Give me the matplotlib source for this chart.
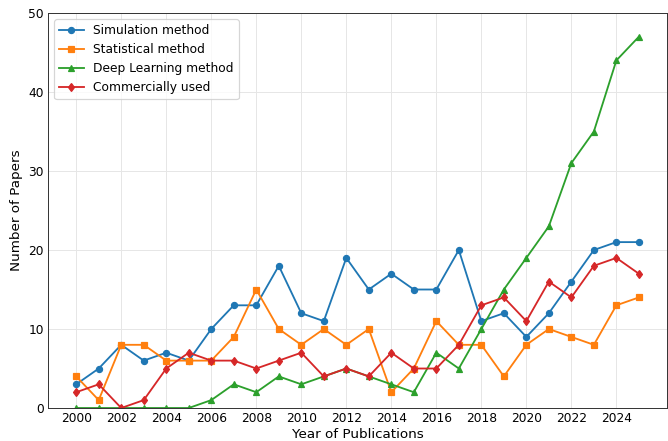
import numpy as np
import matplotlib
matplotlib.use('Agg')
import matplotlib.pyplot as plt

# data
years = np.arange(2000, 2026)
simulation = [3, 5, 8, 6, 7, 6, 10, 13, 13, 18, 12, 11, 19, 15, 17, 15, 15, 20, 11, 12, 9, 12, 16, 20, 21, 21]
statistical = [4, 1, 8, 8, 6, 6, 6, 9, 15, 10, 8, 10, 8, 10, 2, 5, 11, 8, 8, 4, 8, 10, 9, 8, 13, 14]
deep_learning = [0, 0, 0, 0, 0, 0, 1, 3, 2, 4, 3, 4, 5, 4, 3, 2, 7, 5, 10, 15, 19, 23, 31, 35, 44, 47]
commercial = [2, 3, 0, 1, 5, 7, 6, 6, 5, 6, 7, 4, 5, 4, 7, 5, 5, 8, 13, 14, 11, 16, 14, 18, 19, 17]

fig, ax = plt.subplots(figsize=(668 / 88, 441 / 88), dpi=88)

ax.plot(years, simulation, 'o-', color='C0', markersize=5, label='Simulation method')
ax.plot(years, statistical, 's-', color='C1', markersize=5, label='Statistical method')
ax.plot(years, deep_learning, '^-', color='C2', markersize=5, label='Deep Learning method')
ax.plot(years, commercial, 'd-', color='C3', markersize=5, label='Commercially used')

ax.set_xlim(1998.75, 2026.25)
ax.set_ylim(0, 50)
ax.set_xticks(np.arange(2000, 2026, 2))
ax.tick_params(labelsize=10, length=0)
ax.set_xlabel('Year of Publications', fontsize=11, labelpad=2)
ax.set_ylabel('Number of Papers', fontsize=11)
ax.grid(True, color='#e6e6e6', linewidth=0.8)
ax.set_axisbelow(True)
for s in ax.spines.values():
    s.set_color('#333333')
ax.legend(loc='upper left', fontsize=10)

fig.subplots_adjust(left=0.072, right=0.9985, top=0.9705, bottom=0.0748)
fig.savefig('out.png', dpi=88)
